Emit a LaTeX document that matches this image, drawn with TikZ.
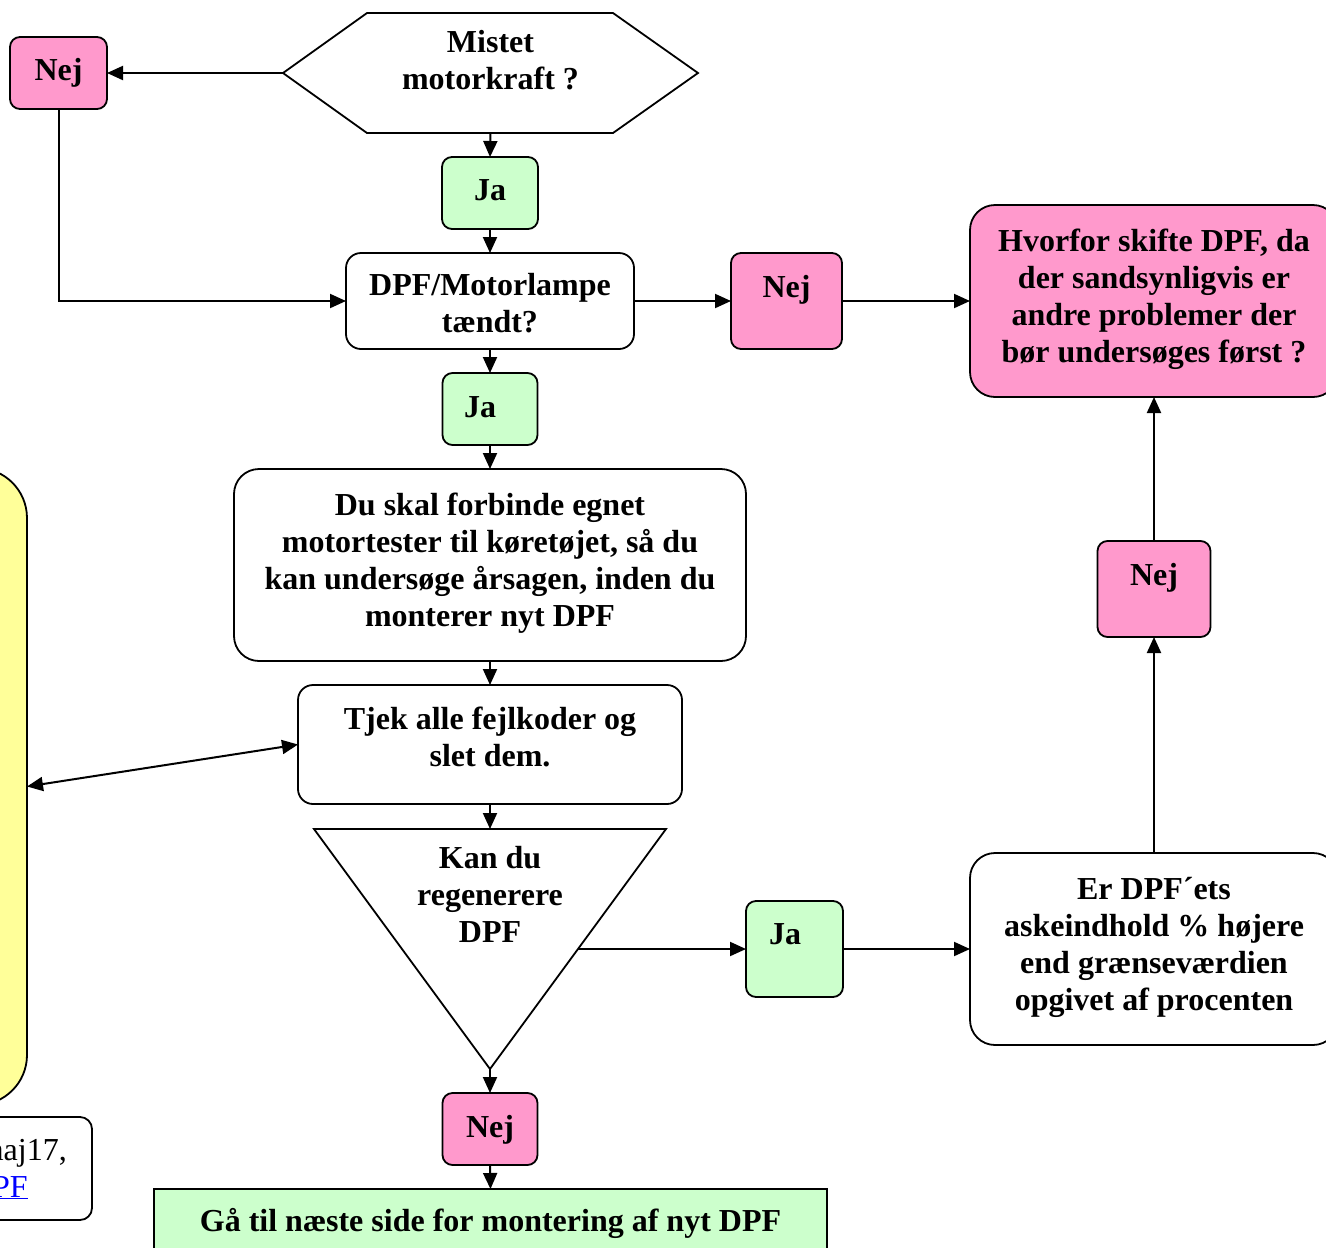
\documentclass[tikz,border=0pt]{standalone}
\usepackage{fontspec}
\setmainfont{Liberation Serif}
\usetikzlibrary{arrows.meta,calc}
\definecolor{pinkc}{RGB}{255,153,204}
\definecolor{greenc}{RGB}{204,255,204}
\definecolor{yellowc}{RGB}{255,255,153}
\begin{document}
\begin{tikzpicture}[x=1pt,y=-1pt,
  box/.style={draw, line width=1.8pt, rectangle, inner sep=0pt, outer sep=0pt},
  pinkbox/.style={box, fill=pinkc, rounded corners=10pt},
  greenbox/.style={box, fill=greenc, rounded corners=10pt},
  whitebox/.style={box, fill=white, rounded corners=#1},
  txt/.style={font=\fontsize{32}{37}\selectfont\bfseries, align=center, inner sep=0pt},
  foottxt/.style={font=\fontsize{32}{37}\selectfont, inner sep=0pt},
  arr/.style={line width=2pt, -{Triangle[length=16pt,width=14pt]}},
  dbl/.style={line width=2pt, {Triangle[length=16pt,width=14pt]}-{Triangle[length=16pt,width=14pt]}},
  conn/.style={line width=2pt},
]
\useasboundingbox (0,0) rectangle (1326,1248);
\clip (0,0) rectangle (1326,1248);

% hexagon
\node[box, draw=none, minimum width=415pt, minimum height=120pt,
  label={[txt,yshift=9.5pt]center:{\strut Mistet\\\strut motorkraft ?}}] (mist) at (490.5,73) {};
\draw[line width=1.8pt, line join=miter] (mist.west) -- ([xshift=84pt]mist.north west) -- ([xshift=-85pt]mist.north east) -- (mist.east) -- ([xshift=-85pt]mist.south east) -- ([xshift=84pt]mist.south west) -- cycle;

\node[pinkbox, minimum width=97pt, minimum height=72pt,
  label={[txt,yshift=0pt]center:{\strut Nej}}] (nej1) at (58.5,73) {};
\node[greenbox, minimum width=96pt, minimum height=72pt,
  label={[txt,yshift=0pt]center:{\strut Ja}}] (ja1) at (490,193) {};
\node[whitebox=15pt, minimum width=288pt, minimum height=96pt,
  label={[txt,yshift=-6pt]center:{\strut DPF/Motorlampe\\\strut tændt?}}] (dpf) at (490,301) {};
\node[pinkbox, minimum width=111pt, minimum height=96pt,
  label={[txt,yshift=11pt]center:{\strut Nej}}] (nej2) at (786.5,301) {};
\node[box, fill=pinkc, rounded corners=25pt, minimum width=368pt, minimum height=192pt,
  label={[txt,yshift=1.5pt]center:{\strut Hvorfor skifte DPF, da\\\strut der sandsynligvis er\\\strut andre problemer der\\\strut bør undersøges først ?}}] (pink) at (1154,301) {};
\node[greenbox, minimum width=95pt, minimum height=72pt,
  label={[txt,yshift=-1pt,xshift=-10pt]center:{\strut Ja}}] (ja2) at (490,409) {};
\node[whitebox=25pt, minimum width=512pt, minimum height=192pt,
  label={[txt,yshift=1pt]center:{\strut Du skal forbinde egnet\\\strut motortester til køretøjet, så du\\\strut kan undersøge årsagen, inden du\\\strut monterer nyt DPF}}] (big) at (490,565) {};
\node[whitebox=15pt, minimum width=384pt, minimum height=119pt,
  label={[txt,yshift=3.5pt]center:{\strut Tjek alle fejlkoder og\\\strut slet dem.}}] (tjek) at (490,744.5) {};

% triangle
\node[box, draw=none, minimum width=352pt, minimum height=240pt,
  label={[txt,yshift=50.5pt]center:{\strut Kan du\\\strut regenerere\\\strut DPF}}] (tri) at (490,949) {};
\draw[line width=1.8pt, line join=miter] (tri.north west) -- (tri.north east) -- (tri.south) -- cycle;
\coordinate (triR) at ($(tri.north east)!0.5!(tri.south)$);

\node[greenbox, minimum width=97pt, minimum height=96pt,
  label={[txt,yshift=12pt,xshift=-9.5pt]center:{\strut Ja}}] (ja3) at (794.5,949) {};
\node[whitebox=25pt, minimum width=368pt, minimum height=192pt,
  label={[txt,yshift=1.5pt]center:{\strut Er DPF´ets\\\strut askeindhold \% højere\\\strut end grænseværdien\\\strut opgivet af procenten}}] (er) at (1154,949) {};
\node[pinkbox, minimum width=113pt, minimum height=96pt,
  label={[txt,yshift=11pt]center:{\strut Nej}}] (nej4) at (1154,589) {};
\node[pinkbox, minimum width=95pt, minimum height=72pt,
  label={[txt,yshift=-1pt]center:{\strut Nej}}] (nej5) at (490,1129) {};
\node[box, fill=greenc, minimum width=673pt, minimum height=70pt,
  label={[txt,yshift=0pt]center:{\strut Gå til næste side for montering af nyt DPF}}] (green) at (490.5,1224) {};

% left side
\node[box, fill=yellowc, rounded corners=50pt, minimum width=227pt, minimum height=637pt] (yel) at (-86.5,786.5) {};
\node[whitebox=12pt, minimum width=292pt, minimum height=103pt] (foot) at (-54,1168.5) {};
\node[foottxt, anchor=base east] (f1) at (67,1160) {maj17,};
\node[foottxt, anchor=base east] (f2) at (28,1197) {\textcolor{blue}{\underline{DPF}}};

% connectors
\draw[arr] (mist.west) -- (nej1.east);
\draw[arr] (nej1.south) |- (dpf.west);
\draw[arr] (mist.south) -- (ja1.north);
\draw[arr] (ja1.south) -- (dpf.north);
\draw[arr] (dpf.east) -- (nej2.west);
\draw[arr] (nej2.east) -- (pink.west);
\draw[arr] (dpf.south) -- (ja2.north);
\draw[arr] (ja2.south) -- (big.north);
\draw[arr] (big.south) -- (tjek.north);
\draw[arr] (tjek.south) -- (tri.north);
\draw[arr] (triR) -- (ja3.west);
\draw[arr] (ja3.east) -- (er.west);
\draw[arr] (er.north) -- (nej4.south);
\draw[arr] (nej4.north) -- (pink.south);
\draw[arr] (tri.south) -- (nej5.north);
\draw[arr] (nej5.south) -- (green.north);
\draw[dbl] (yel.east) -- (tjek.west);
\end{tikzpicture}
\end{document}
